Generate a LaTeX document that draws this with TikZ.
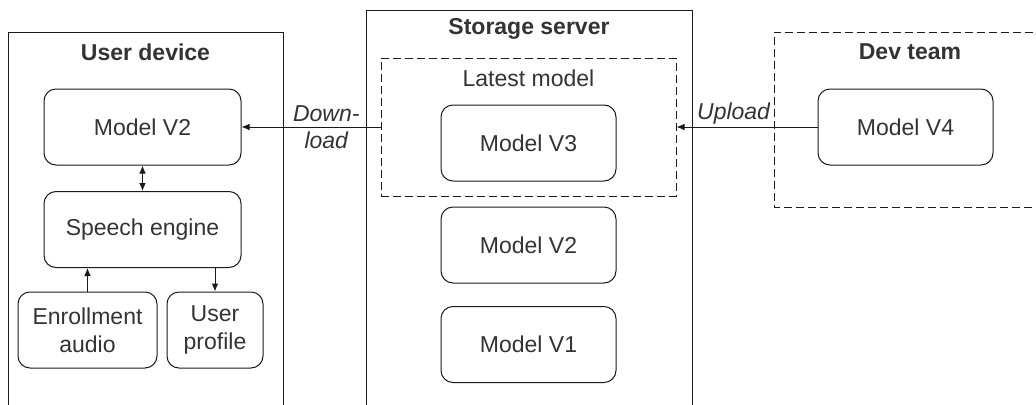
\documentclass[tikz,border=0pt]{standalone}
\usepackage{fontspec}
\setmainfont{Liberation Sans}
\usepackage{xcolor}
\usetikzlibrary{arrows.meta, positioning}
\definecolor{inkgrey}{HTML}{333333}
\definecolor{linegrey}{HTML}{1A1A1A}

\begin{document}
\begin{tikzpicture}[x=0.75pt, y=-0.75pt,
        >={Latex[length=6pt, width=5pt]},
        every node/.style={font=\fontsize{17.25}{21}\selectfont, text=inkgrey},
        title/.style={font=\fontsize{17.25}{21}\selectfont\bfseries},
        modelbox/.style={draw=linegrey, line width=0.75pt, rounded corners=9pt,
            minimum width=131.25pt, minimum height=57pt, inner sep=0pt, align=center},
        frame/.style={draw=linegrey, line width=0.75pt},
        dashframe/.style={frame, dash pattern=on 6pt off 3pt},
        link/.style={draw=linegrey, line width=0.75pt}]
    \useasboundingbox (0,0) rectangle (1036,404);

    % outer frames, cut by the page edge
    \draw[frame] (8,410) -- (8,32) -- (283,32) -- (283,410);
    \draw[frame] (366,410) -- (366,10) -- (692,10) -- (692,410);
    \draw[dashframe] (1045,32) -- (774,32) -- (774,207) -- (1045,207);
    \node[dashframe, minimum width=221.25pt, minimum height=103.5pt] (latest) at (528.5,127) {};

    \node[title] (devicetitle) at (145.5,52) {User device};
    \node[title] (servertitle) at (529,29) {Storage server};
    \node (latesttitle) at (528.5,78) {Latest model};
    \node[title] (teamtitle) at (910,52) {Dev team};

    % user device
    \node[modelbox, minimum width=147.75pt] (usermodel) at (142.5,127) {Model V2};
    \node[modelbox, minimum width=147.75pt] (engine) at (142.5,229.5) {Speech engine};
    \node[modelbox, minimum width=104.25pt] (enroll) at (87.5,330) {Enrollment\\audio};
    \node[modelbox, minimum width=72pt] (profile) at (215,330) {User\\profile};

    % storage server
    \node[modelbox] (serverthree) at (528.5,143) {Model V3};
    \node[modelbox] (servertwo) at (528.5,245) {Model V2};
    \node[modelbox] (serverone) at (528.5,344.5) {Model V1};

    % dev team
    \node[modelbox] (devmodel) at (905.5,127) {Model V4};

    \draw[link, <->] (usermodel) -- (engine);
    \draw[link, ->] (enroll.north) -- (enroll.north |- engine.south);
    \draw[link, ->] (engine.south -| profile.north) -- (profile.north);
    \draw[link, ->] (latest.west) -- (usermodel.east)
        node[pos=0.39, align=center, font=\fontsize{17.25}{20.25}\selectfont\itshape] {Down-\\load};
    \draw[link, ->] (devmodel.west) -- (latest.east)
        node[pos=0.595, above, inner sep=1.5pt, font=\fontsize{17.25}{21}\selectfont\itshape] {Upload};
\end{tikzpicture}
\end{document}
